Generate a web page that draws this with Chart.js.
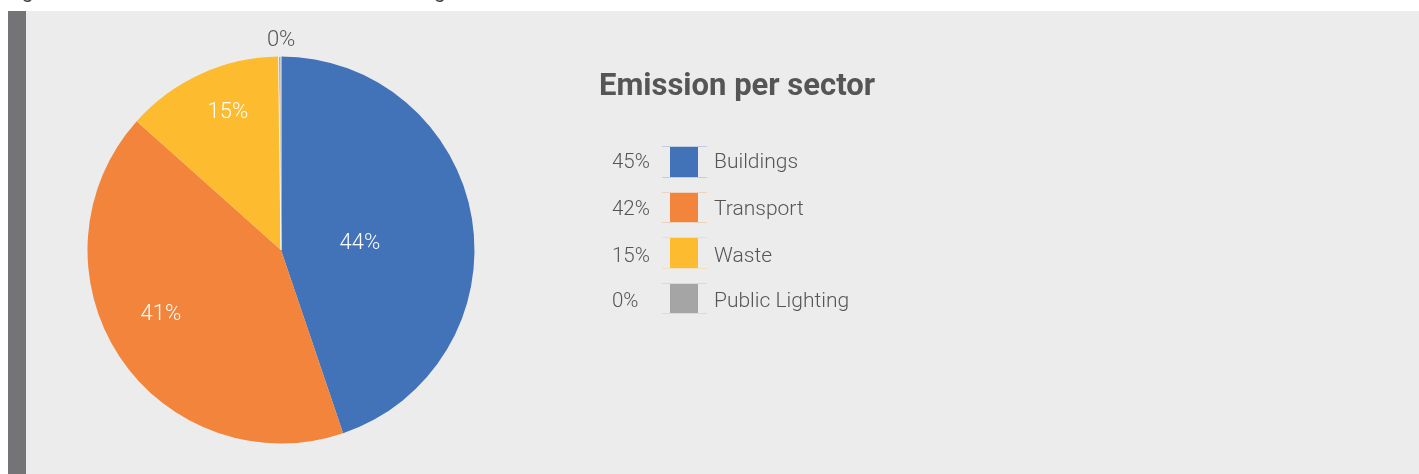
<!DOCTYPE html>
<html>
<head>
<meta charset="utf-8">
<script src="https://cdn.jsdelivr.net/npm/chart.js@4.4.1/dist/chart.umd.min.js"></script>
<style>
  html, body { margin: 0; padding: 0; background: #ffffff; width: 1419px; height: 474px; overflow: hidden; }
  .cap { position: absolute; top: -21px; font: 20px Roboto, sans-serif; color: #444; white-space: nowrap; }
  #panel { position: absolute; left: 8px; top: 11px; width: 1411px; height: 463px; background: #ececec; }
  #bar { position: absolute; left: 8px; top: 11px; width: 18px; height: 463px; background: #747477; }
  #wrap { position: absolute; left: 0; top: 0; width: 1419px; height: 474px; }
</style>
</head>
<body>
<div class="cap" style="left:6px">Figure</div>
<div class="cap" style="left:408px">sing</div>
<div id="panel"></div>
<div id="bar"></div>
<div id="wrap"><canvas id="c" width="1419" height="474"></canvas></div>
<script>
// ---- data ----
const categories = ["Buildings", "Transport", "Waste", "Public Lighting"];
const shares = [44.8, 41.8, 13.2, 0.2];
const sliceLabels = ["44%", "41%", "15%", "0%"];
const legendPercents = ["45%", "42%", "15%", "0%"];
const colors = ["#4273b8", "#f2843c", "#fdbb2f", "#a5a5a5"];
const chartTitle = "Emission per sector";

const FONT = "Roboto, 'Open Sans', sans-serif";

// slice label placement (fraction of radius, angle shift in degrees)
const labelRadius = [0.41, 0.70, 0.77, 1.093];
const labelShift = [3, 6, 3.6, 0.4];
const labelColor = ["#ffffff", "#ffffff", "#ffffff", "#555555"];

const sliceLabelPlugin = {
  id: "sliceLabels",
  afterDatasetsDraw(chart) {
    const ctx = chart.ctx;
    const meta = chart.getDatasetMeta(0);
    ctx.save();
    ctx.font = "300 22px " + FONT;
    ctx.textAlign = "center";
    ctx.textBaseline = "middle";
    meta.data.forEach((arc, i) => {
      const p = arc.getProps(["x", "y", "startAngle", "endAngle", "outerRadius"], true);
      const mid = (p.startAngle + p.endAngle) / 2 + labelShift[i] * Math.PI / 180;
      const r = p.outerRadius * labelRadius[i];
      ctx.fillStyle = labelColor[i];
      ctx.fillText(sliceLabels[i], p.x + Math.cos(mid) * r, p.y + Math.sin(mid) * r + 2);
    });
    ctx.restore();
  }
};

const sideLegendPlugin = {
  id: "sideLegend",
  afterDraw(chart) {
    const ctx = chart.ctx;
    ctx.save();
    ctx.fillStyle = "#555555";
    ctx.font = "bold 31px " + FONT;
    ctx.textAlign = "left";
    ctx.textBaseline = "middle";
    ctx.fillText(chartTitle, 599, 87);

    const boxTop = [147, 193, 238, 284];
    const boxH = [30, 29, 30, 29];
    const textDy = [1, 2, 4, 3];
    categories.forEach((name, i) => {
      const y = boxTop[i] + boxH[i] / 2;
      ctx.font = "300 20.5px " + FONT;
      ctx.fillStyle = "#555555";
      ctx.textAlign = "left";
      ctx.fillText(legendPercents[i], 612, y + textDy[i]);
      // faint guide lines
      ctx.globalAlpha = 0.25;
      ctx.fillStyle = colors[i];
      ctx.fillRect(662, boxTop[i] - 1, 45, 1);
      ctx.fillRect(662, boxTop[i] + boxH[i], 45, 1);
      ctx.globalAlpha = 1;
      ctx.fillStyle = colors[i];
      ctx.fillRect(670, boxTop[i], 28, boxH[i]);
      ctx.fillStyle = "#555555";
      ctx.font = "300 21px " + FONT;
      ctx.fillText(name, 714, y + textDy[i]);
    });
    ctx.restore();
  }
};

new Chart(document.getElementById("c"), {
  type: "pie",
  data: {
    labels: categories,
    datasets: [{
      data: shares,
      backgroundColor: colors,
      borderWidth: [0, 0, 0, 1],
      borderColor: "#f4f4f4"
    }]
  },
  options: {
    responsive: false,
    animation: false,
    layout: { padding: { left: 87, right: 944, top: 56, bottom: 30 } },
    plugins: {
      legend: { display: false },
      tooltip: { enabled: false },
      title: { display: false }
    }
  },
  plugins: [sliceLabelPlugin, sideLegendPlugin]
});
</script>
</body>
</html>
